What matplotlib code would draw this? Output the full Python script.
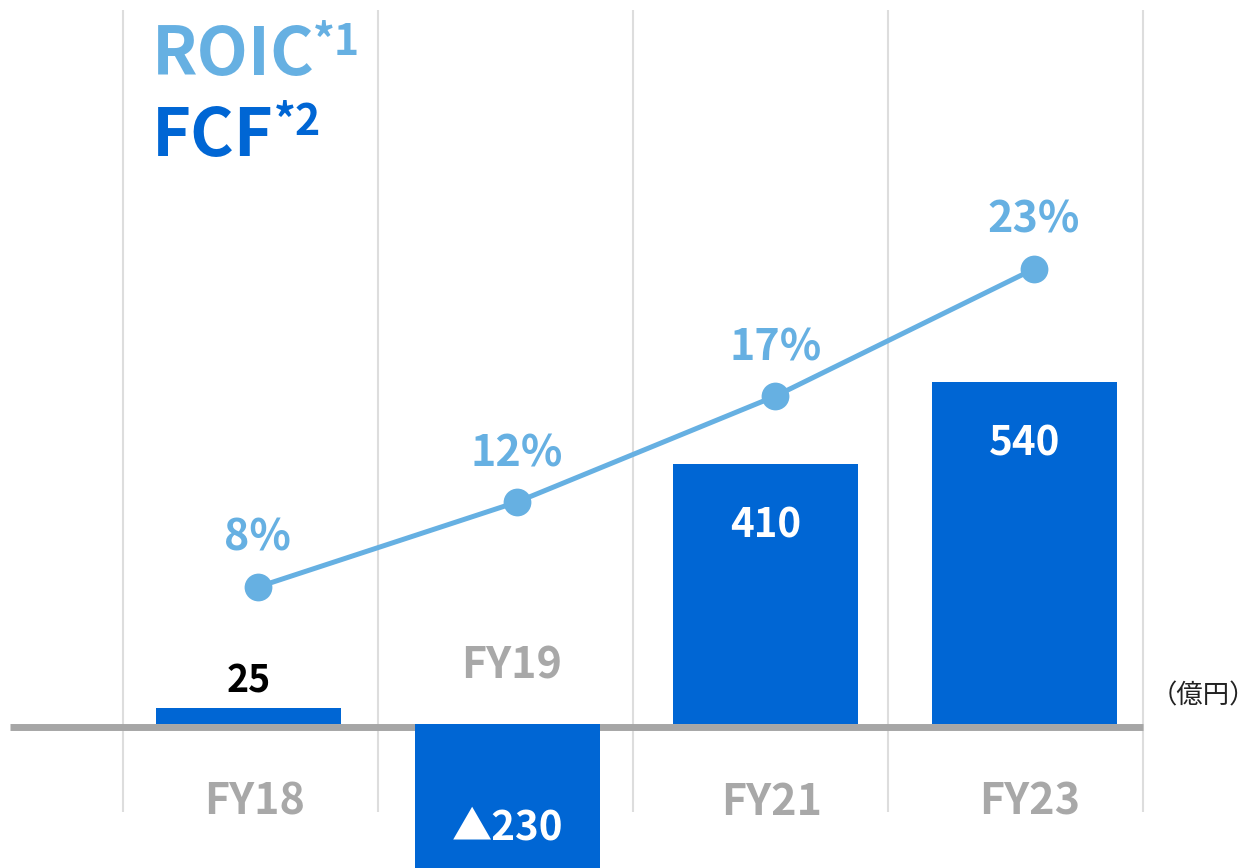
import matplotlib
matplotlib.use("Agg")
import matplotlib.pyplot as plt

# FCF (億円) bars and ROIC (%) line per fiscal year
years = ["FY18", "FY19", "FY21", "FY23"]
fcf = [25, -230, 410, 540]
fcf_labels = ["25", "▲230", "410", "540"]
roic = [8, 12, 17, 23]
roic_labels = [f"{v}%" for v in roic]

BLUE = "#0066D4"
LIGHT = "#66B0E2"
GRAY = "#A8A8A8"

plt.rcParams["font.family"] = ["Noto Sans CJK JP", "DejaVu Sans"]

W, H = 1255, 868
fig = plt.figure(figsize=(W / 100, H / 100), dpi=100)
ax = fig.add_axes([0, 0, 1, 1])
ax.set_xlim(-0.961, 3.891)
ax.set_ylim(-227.5, 1143.8)
ax.axis("off")

x = list(range(len(years)))

# column separators and the zero line
ax.vlines([-0.485, 0.5, 1.486, 2.472, 3.457], 0.0645, 0.9885,
          transform=ax.get_xaxis_transform(), colors="#DDDDDD", lw=1.5, zorder=0)
ax.hlines(-4, -0.922, 3.457, colors="#A6A6A6", lw=5, zorder=1)

ax.bar(x, fcf, width=0.715, color=BLUE, zorder=2)

bold = dict(weight="bold", ha="center", va="baseline", textcoords="offset points")
for i, (v, lab, yr) in enumerate(zip(fcf, fcf_labels, years)):
    if v < 0:
        ax.annotate(lab, (i, 0), xytext=(0, -83.5), color="white", fontsize=29, **bold)
        ax.annotate(yr, (i, 0), xytext=(3, 33), color=GRAY, fontsize=31, **bold)
        continue
    if v < 100:
        ax.annotate(lab, (i, v), xytext=(0, 11.5), color="black", fontsize=27, **bold)
    else:
        ax.annotate(lab, (i, v), xytext=(0, -52.5), color="white", fontsize=29, **bold)
    ax.annotate(yr, (i, 0), xytext=(4, -65.5), color=GRAY, fontsize=31, **bold)

# ROIC on its own scale
ax2 = ax.twinx()
ax2.set_position([0, 0, 1, 1])
ax2.set_ylim(-5.255, 35.69)
ax2.axis("off")
xr = [i + 0.036 for i in x]
ax2.plot(xr, roic, "-o", color=LIGHT, lw=3.6, ms=20, mew=0, zorder=3)
for xi, v, lab in zip(xr, roic, roic_labels):
    ax2.annotate(lab, (xi, v), xytext=(0, 26), color=LIGHT, fontsize=31, **bold)


def px(xp, yp):
    return xp / W, 1 - yp / H


fig.text(*px(152, 75), "ROIC", color=LIGHT, fontsize=48, weight="bold", va="baseline")
fig.text(*px(313, 55), "*1", color=LIGHT, fontsize=31, weight="bold", va="baseline")
fig.text(*px(152, 156), "FCF", color=BLUE, fontsize=48, weight="bold", va="baseline")
fig.text(*px(274, 135), "*2", color=BLUE, fontsize=31, weight="bold", va="baseline")
fig.text(*px(1256, 703), "（億円）", color="#222222", fontsize=19, ha="right", va="baseline")

fig.savefig("out.png", dpi=100)
